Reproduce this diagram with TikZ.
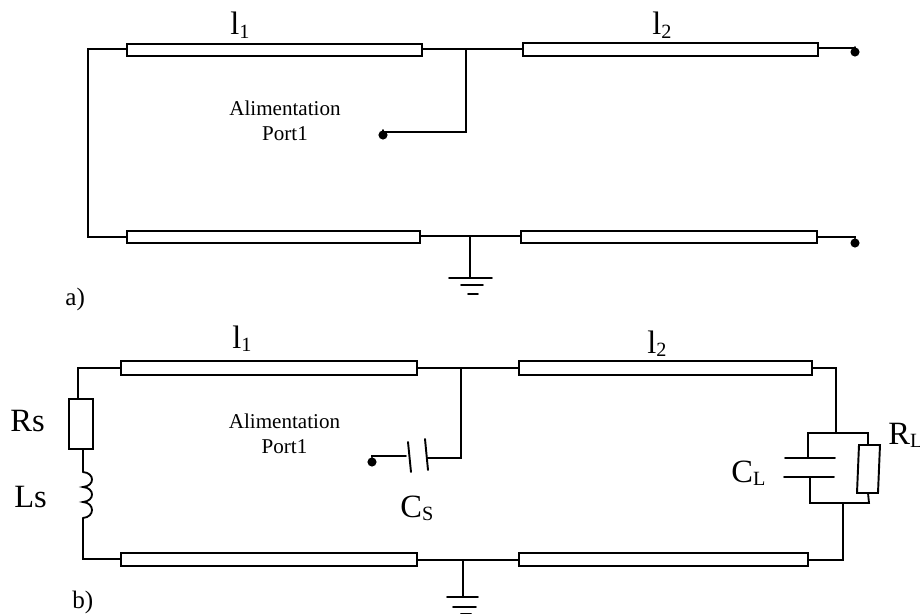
\documentclass[tikz,border=0pt]{standalone}
\usepackage{fontspec}
\setmainfont{Liberation Serif}
\tikzset{
	wire/.style={black,line width=1.05pt},
	tline/.style={black,line width=1.1pt,fill=white},
	bar/.style={black,line width=1.1pt},
	dotnode/.style={circle,fill=black,inner sep=0pt,minimum size=5.2pt},
	small/.style={font=\fontsize{12}{14.2}\selectfont,align=center,inner sep=0pt},
	big/.style={font=\fontsize{18.5}{20}\selectfont,inner sep=0pt,anchor=base west},
	tag/.style={font=\fontsize{14.3}{16}\selectfont,inner sep=0pt,anchor=base west}
}
\newcommand{\subs}[1]{\raisebox{-1.8pt}{\fontsize{11.5}{12}\selectfont #1}}
\begin{document}
\begin{tikzpicture}[line cap=round, line join=miter, x=0.02cm, y=-0.02cm]
	\useasboundingbox (0,0) rectangle (920,615);

	% panel a
	\coordinate (A1) at (127,44);
	\coordinate (B1) at (422,56);
	\coordinate (A2) at (523,43);
	\coordinate (B2) at (818,56);
	\coordinate (C1) at (127,231);
	\coordinate (D1) at (420,243);
	\coordinate (C2) at (521,231);
	\coordinate (D2) at (817,243);
	\coordinate (WL) at (88,49);
	\coordinate (WB) at (88,237);
	\coordinate (J1) at (466,49);
	\coordinate (J2) at (466,132);
	\coordinate (G) at (470,236);
	\coordinate (G1) at (470,278);

	\draw [tline] (A1) rectangle (B1);
	\draw [tline] (A2) rectangle (B2);
	\draw [tline] (C1) rectangle (D1);
	\draw [tline] (C2) rectangle (D2);

	\node [dotnode] (P) at (383,135) {};
	\node [dotnode] (T1) at (855,52) {};
	\node [dotnode] (T2) at (855,243) {};

	\draw [wire] (127,49)--(WL)--(WB)--(127,237);
	\draw [wire] (422,49)--(J1)--(523,49);
	\draw [wire] (J1)--(J2)-|(P.north);
	\draw [wire] (818,48)-|(T1.north);
	\draw [wire] (817,237)-|(T2.north);
	\draw [wire] (420,236)--(G)--(521,236);
	\draw [wire] (G)--(G1);
	\draw [bar] (449,278)--(492,278);
	\draw [bar] (461,285)--(483,285);
	\draw [bar] (468,294)--(478,294);

	\node [big] (l1a) at (230,35) {l\subs{1}};
	\node [big] (l2a) at (652,35) {l\subs{2}};
	\node [small] (porta) at (285,120.5) {Alimentation\\Port1};
	\node [tag] (a) at (65,305) {a)};

	% panel b
	\coordinate (E1) at (121,361);
	\coordinate (F1) at (417,375);
	\coordinate (E2) at (519,361);
	\coordinate (F2) at (812,375);
	\coordinate (H1) at (121,553);
	\coordinate (I1) at (417,566);
	\coordinate (H2) at (519,553);
	\coordinate (I2) at (808,566);
	\coordinate (JB) at (461,368);
	\coordinate (JC) at (461,458);
	\coordinate (K) at (463,560);
	\coordinate (K1) at (463,597);

	\draw [tline] (E1) rectangle (F1);
	\draw [tline] (E2) rectangle (F2);
	\draw [tline] (H1) rectangle (I1);
	\draw [tline] (H2) rectangle (I2);

	% source branch
	\draw [wire] (121,368)--(78,368)--(78,399);
	\draw [tline] (69,399) rectangle (93,449);
	\draw [wire] (83,449)--(83,472);
	\draw [wire] (83,472) .. controls (95,473) and (95,486) .. (83,487)
		.. controls (95,488) and (95,501) .. (83,502)
		.. controls (95,503) and (95,517) .. (83,518);
	\draw [wire] (83,518)--(83,559)--(121,559);

	% port capacitor
	\node [dotnode] (Q) at (372,462) {};
	\draw [wire] (417,368)--(JB)--(519,368);
	\draw [wire] (JB)--(JC)--(427,458);
	\draw [wire] (Q.north)|-(406,456);
	\draw [bar] (408,442)--(411,472);
	\draw [bar] (425,439)--(428,470);

	% ground
	\draw [wire] (417,560)--(K)--(519,560);
	\draw [wire] (K)--(K1);
	\draw [bar] (447,597)--(478,597);
	\draw [bar] (453,607)--(476,607);
	\draw [bar] (461,613.5)--(471,613.5);

	% load
	\draw [wire] (812,368)--(836,368)--(836,433);
	\draw [wire] (808,458)--(808,433)--(868,433)--(868,445);
	\draw [bar] (785,458)--(835,458);
	\draw [bar] (784,477)--(834,477);
	\draw [wire] (810,477)--(810,503)--(869,503)--(868,493);
	\draw [tline] (859,445)--(880,445)--(878,493)--(857,493)--cycle;
	\draw [wire] (843,503)--(843,560)--(808,560);

	\node [big] (l1b) at (232,348) {l\subs{1}};
	\node [big] (l2b) at (647,353) {l\subs{2}};
	\node [small] (portb) at (284.5,433.5) {Alimentation\\Port1};
	\node [big] (rs) at (10,431) {Rs};
	\node [big] (ls) at (14,507) {Ls};
	\node [big] (cs) at (400,517) {C\subs{S}};
	\node [big] (cl) at (731,482) {C\subs{L}};
	\node [big] (rl) at (888,444) {R\subs{L}};
	\node [tag] (b) at (72,608) {b)};
\end{tikzpicture}
\end{document}
